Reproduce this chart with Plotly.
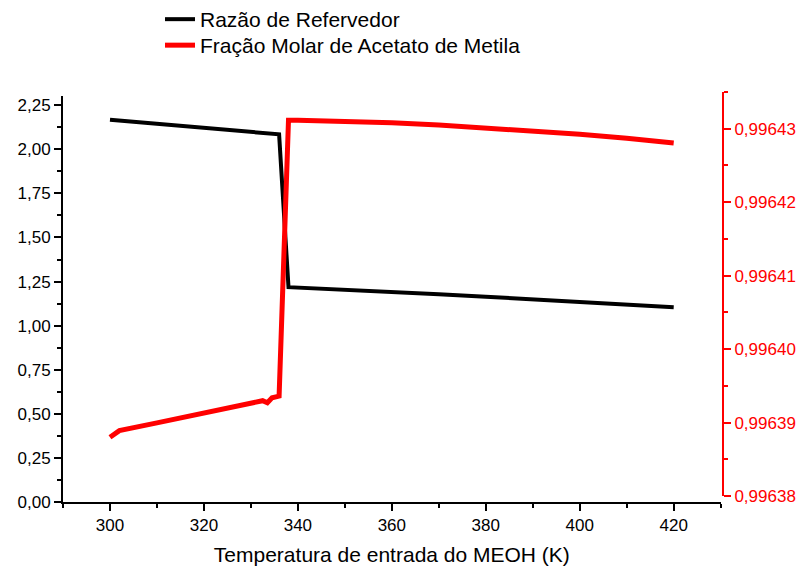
import plotly.graph_objects as go

# ---- data ----
temp_razao = [300, 310, 320, 330, 336, 338, 350, 360, 370, 380, 390, 400, 410, 420]
razao_refervedor = [2.168, 2.145, 2.122, 2.099, 2.085, 1.218, 1.205, 1.192, 1.178,
                    1.164, 1.150, 1.136, 1.121, 1.105]

temp_fracao = [300, 302, 310, 320, 330, 332.5, 333.5, 334.5, 336, 338, 340, 350,
               360, 370, 380, 390, 400, 410, 420]
fracao_molar = [0.9963880, 0.9963889, 0.99638995, 0.9963913, 0.9963926, 0.99639297,
                0.9963927, 0.99639337, 0.9963936, 0.99643116, 0.99643115, 0.9964310,
                0.9964308, 0.9964305, 0.9964301, 0.99642975, 0.99642925, 0.9964287,
                0.99642805]

left_ticks = [0, 0.25, 0.5, 0.75, 1.0, 1.25, 1.5, 1.75, 2.0, 2.25]

FONT = "Liberation Sans, Arial, sans-serif"

fig = go.Figure()
fig.add_trace(go.Scatter(x=temp_razao, y=razao_refervedor, mode="lines",
                         name="Razão de Refervedor", legend="legend",
                         line=dict(color="black", width=4)))
fig.add_trace(go.Scatter(x=temp_fracao, y=fracao_molar, mode="lines",
                         name="Fração Molar de Acetato de Metila", legend="legend2",
                         line=dict(color="#ff0000", width=5), yaxis="y2"))

legend_style = dict(xanchor="left", yanchor="top",
                    font=dict(family=FONT, size=21, color="black"),
                    bgcolor="rgba(0,0,0,0)", borderwidth=0)

fig.update_layout(
    width=800, height=566,
    margin=dict(l=63, r=77, t=92, b=64, autoexpand=False),
    paper_bgcolor="white", plot_bgcolor="rgba(0,0,0,0)",
    separators=",.",
    font=dict(family=FONT, size=17, color="black"),
    showlegend=True,
    legend=dict(x=0.147, y=1.2268, **legend_style),
    legend2=dict(x=0.147, y=1.1634, **legend_style),
    xaxis=dict(domain=[0, 0.9965], range=[290, 430], dtick=20, tick0=0,
               automargin=False,
               showgrid=False, zeroline=False, showline=True, linecolor="black",
               linewidth=2, ticks="outside", ticklen=7, tickwidth=2,
               tickcolor="black",
               minor=dict(dtick=10, ticks="outside", ticklen=4, tickwidth=2,
                          tickcolor="black", showgrid=False),
               tickfont=dict(size=17),
               title=dict(text="Temperatura de entrada do MEOH (K)",
                          font=dict(size=21), standoff=14)),
    yaxis=dict(domain=[0, 0.98927], range=[0, 2.3], tickvals=left_ticks,
               automargin=False,
               tickformat=".2f", showgrid=False, zeroline=False, showline=True,
               linecolor="black", linewidth=2, ticks="outside", ticklen=7,
               tickwidth=2, tickcolor="black",
               minor=dict(dtick=0.125, tick0=0, ticks="outside", ticklen=4,
                          tickwidth=2, tickcolor="black", showgrid=False),
               tickfont=dict(size=17)),
    yaxis2=dict(domain=[0.01463, 1], range=[0.99638, 0.996435], anchor="free",
                automargin=False,
                position=1, side="right", tick0=0.99638, dtick=0.00001,
                tickformat=".5f", showgrid=False, zeroline=False, showline=True,
                linecolor="#ff0000", linewidth=2, ticks="outside", ticklen=7,
                tickwidth=2, tickcolor="#ff0000",
                minor=dict(dtick=0.000005, tick0=0.99638, ticks="outside",
                           ticklen=4, tickwidth=2, tickcolor="#ff0000",
                           showgrid=False),
                tickfont=dict(size=17, color="#ff0000")),
)

fig.write_html("out.html")
